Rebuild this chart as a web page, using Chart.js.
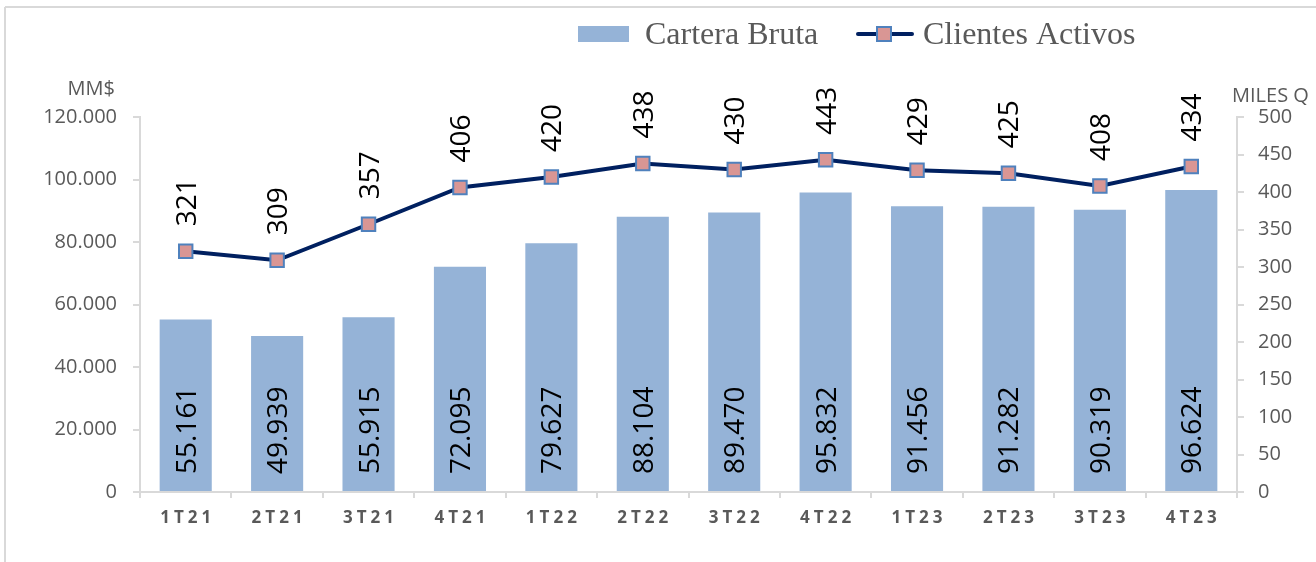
<!DOCTYPE html>
<html><head><meta charset="utf-8">
<script src="https://cdn.jsdelivr.net/npm/chart.js@4"></script>
<style>html,body{margin:0;padding:0;background:#fff;}canvas{display:block;}</style>
</head><body>
<canvas id="c" width="1316" height="562"></canvas>
<script>
const categories = ['1T21','2T21','3T21','4T21','1T22','2T22','3T22','4T22','1T23','2T23','3T23','4T23'];
const carteraBruta = [55161,49939,55915,72095,79627,88104,89470,95832,91456,91282,90319,96624];
const clientesActivos = [321,309,357,406,420,438,430,443,429,425,408,434];
const leftTicks = [0,20000,40000,60000,80000,100000,120000];
const rightTicks = [0,50,100,150,200,250,300,350,400,450,500];
const seriesNames = ['Cartera Bruta','Clientes Activos'];
const axisTitles = ['MM$','MILES Q'];

const GRAY = '#595959';
const AXIS = '#d9d9d9';
const BAR = '#95b3d7';
const LINE = '#002060';
const MFILL = '#d99694';
const MEDGE = '#4f81bd';

function fmt(v){ return String(v).replace(/\B(?=(\d{3})+(?!\d))/g,'.'); }

function drawMarker(ctx,x,y,s){
  ctx.fillStyle = MFILL; ctx.fillRect(x-s/2,y-s/2,s,s);
  ctx.strokeStyle = MEDGE; ctx.lineWidth = 2; ctx.strokeRect(x-s/2,y-s/2,s,s);
}

const deco = {
  id:'deco',
  beforeDraw(chart){
    const ctx = chart.ctx;
    ctx.save();
    ctx.fillStyle='#fff'; ctx.fillRect(0,0,chart.width,chart.height);
    ctx.strokeStyle=AXIS; ctx.lineWidth=2;
    ctx.beginPath(); ctx.moveTo(5,7); ctx.lineTo(chart.width,7); ctx.moveTo(5,7); ctx.lineTo(5,chart.height); ctx.stroke();
    ctx.restore();
    const xs = chart.scales.x;
    if(!xs._ls){
      const orig = xs.drawLabels;
      xs.drawLabels = function(a){ const c=this.ctx; c.save(); c.letterSpacing='4px'; c.translate(2,0); orig.call(this,a); c.restore(); };
      xs._ls = true;
    }
  },
  afterDatasetsDraw(chart){
    const ctx = chart.ctx;
    ctx.save();
    ctx.font = '28px "Open Sans"'; ctx.fillStyle='#000'; ctx.textAlign='left'; ctx.textBaseline='alphabetic';
    const off = 10;
    chart.getDatasetMeta(0).data.forEach((el,i)=>{
      ctx.save(); ctx.translate(el.x, el.base-17); ctx.rotate(-Math.PI/2); ctx.fillText(fmt(carteraBruta[i]),0,off); ctx.restore();
    });
    chart.getDatasetMeta(1).data.forEach((el,i)=>{
      ctx.save(); ctx.translate(el.x, el.y-25); ctx.rotate(-Math.PI/2); ctx.fillText(fmt(clientesActivos[i]),0,off); ctx.restore();
    });
    ctx.restore();
  },
  afterDraw(chart){
    const ctx = chart.ctx;
    ctx.save();
    // axis titles
    ctx.font = '20px "Open Sans"'; ctx.fillStyle = GRAY; ctx.textBaseline='middle';
    ctx.textAlign='right'; ctx.fillText(axisTitles[0], 115, 89);
    ctx.textAlign='left'; ctx.fillText(axisTitles[1], 1232, 96);
    // legend
    const ly = 34;
    ctx.fillStyle = BAR; ctx.fillRect(578, 26, 51, 16);
    ctx.font = '32px "Liberation Serif"'; ctx.fillStyle = GRAY; ctx.textAlign='left'; ctx.textBaseline='alphabetic';
    ctx.fillText(seriesNames[0], 645, 44);
    ctx.strokeStyle = LINE; ctx.lineWidth = 4; ctx.lineCap='round'; ctx.beginPath(); ctx.moveTo(858, ly); ctx.lineTo(912, ly); ctx.stroke();
    drawMarker(ctx, 884, ly, 14);
    ctx.fillStyle = GRAY; ctx.fillText(seriesNames[1], 923, 44);
    ctx.restore();
  }
};

new Chart(document.getElementById('c'), {
  data: {
    labels: categories,
    datasets: [
      { type:'bar', label: seriesNames[0], data: carteraBruta, backgroundColor: BAR, yAxisID:'y', order: 1,
        categoryPercentage: 1, barPercentage: 0.57 },
      { type:'line', label: seriesNames[1], data: clientesActivos, yAxisID:'y1', order: 0,
        borderColor: LINE, borderWidth: 4, tension: 0,
        pointStyle:'rect', pointRadius: 9.5, pointHoverRadius: 9.5,
        pointBackgroundColor: MFILL, pointBorderColor: MEDGE, pointBorderWidth: 2 }
    ]
  },
  options: {
    responsive:false, animation:false, devicePixelRatio:1,
    layout:{ padding:{ top:117, left:0, right:0, bottom:0 } },
    plugins:{ legend:{display:false}, tooltip:{enabled:false} },
    scales:{
      x:{
        offset:true,
        grid:{ display:true, offset:true, drawOnChartArea:false, drawTicks:true, tickLength:6, color:AXIS, lineWidth:2 },
        border:{ display:true, color:AXIS, width:2 },
        ticks:{ color:GRAY, font:{ family:'Open Sans', size:17, weight:'bold' }, padding:10, maxRotation:0, autoSkip:false },
        afterFit(s){ s.height = 70; }
      },
      y:{
        position:'left', min:0, max:leftTicks[leftTicks.length-1],
        afterBuildTicks(s){ s.ticks = leftTicks.map(v=>({value:v})); },
        grid:{ display:true, drawOnChartArea:false, drawTicks:true, tickLength:7, color:AXIS, lineWidth:2 },
        border:{ display:true, color:AXIS, width:2 },
        ticks:{ color:GRAY, font:{ family:'Open Sans', size:20 }, padding:16, callback:v=>fmt(v) },
        afterFit(s){ s.width = 140; }
      },
      y1:{
        position:'right', min:0, max:rightTicks[rightTicks.length-1],
        afterBuildTicks(s){ s.ticks = rightTicks.map(v=>({value:v})); },
        grid:{ display:true, drawOnChartArea:false, drawTicks:true, tickLength:7, color:AXIS, lineWidth:2 },
        border:{ display:true, color:AXIS, width:2 },
        ticks:{ color:GRAY, font:{ family:'Open Sans', size:20 }, padding:14, callback:v=>String(v) },
        afterFit(s){ s.width = 79; }
      }
    }
  },
  plugins:[deco]
});
</script>
</body></html>
